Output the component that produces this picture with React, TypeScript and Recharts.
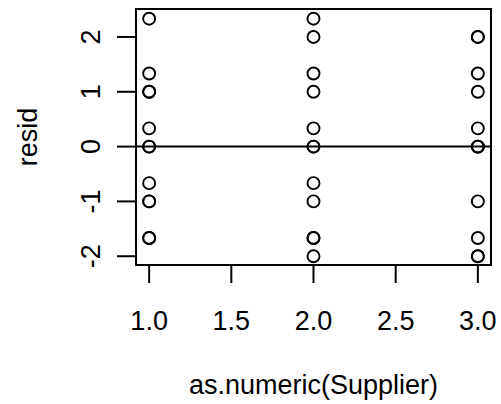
import React from 'react';
import {
  ScatterChart, Scatter, XAxis, YAxis, ReferenceLine, ReferenceArea, Label
} from 'recharts';

// residuals, one list per supplier (repeats are overplotted circles)
const supplier1 = [2.333, 1.333, 1, 1, 0.333, 0, 0, -0.667, -1, -1, -1.667, -1.667];
const supplier2 = [2.333, 2, 1.333, 1, 0.333, 0, 0, -0.667, -1, -1.667, -1.667, -2];
const supplier3 = [2, 2, 1.333, 1, 0.333, 0, 0, 0, -1, -1.667, -2, -2];

const xTicks = [1, 1.5, 2, 2.5, 3];
const yTicks = [-2, -1, 0, 1, 2];
const xDomain: [number, number] = [0.92, 3.08];
const yDomain: [number, number] = [-2.16, 2.51];

const FONT = '"Liberation Sans", Arial, sans-serif';
const FS = 27;

const points = [
  ...supplier1.map(r => ({ x: 1, y: r })),
  ...supplier2.map(r => ({ x: 2, y: r })),
  ...supplier3.map(r => ({ x: 3, y: r })),
];

const XTick = (props: any) => {
  const { x, y, payload } = props;
  return (
    <text x={x} y={y + 46.5} textAnchor="middle" fontFamily={FONT} fontSize={FS} fill="#000">
      {Number(payload.value).toFixed(1)}
    </text>
  );
};

const YTick = (props: any) => {
  const { x, y, payload } = props;
  const bx = x - 17;
  return (
    <text x={bx} y={y} transform={`rotate(-90 ${bx} ${y})`} textAnchor="middle"
      fontFamily={FONT} fontSize={FS} fill="#000">
      {payload.value}
    </text>
  );
};

const Ring = (props: any) => (
  <circle cx={props.cx} cy={props.cy} r={6} fill="none" stroke="#000" strokeWidth={1.9} />
);

export default function App() {
  return (
    <div style={{ position: 'absolute', left: 0, top: 0, background: '#fff' }}>
      <ScatterChart width={501} height={404} margin={{ top: 9, right: 10, bottom: 0, left: 0 }}>
        <XAxis
          type="number" dataKey="x" domain={xDomain} ticks={xTicks} allowDataOverflow
          height={139} tickSize={18} tickMargin={0} axisLine={false}
          tickLine={{ stroke: '#000', strokeWidth: 2 }} tick={<XTick />} interval={0}
        >
          <Label content={({ viewBox }: any) => (
            <text x={viewBox.x + viewBox.width / 2} y={viewBox.y + 128.5} textAnchor="middle"
              fontFamily={FONT} fontSize={FS} fill="#000">as.numeric(Supplier)</text>
          )} />
        </XAxis>
        <YAxis
          type="number" dataKey="y" domain={yDomain} ticks={yTicks} allowDataOverflow
          width={136} tickSize={19} tickMargin={0} axisLine={false}
          tickLine={{ stroke: '#000', strokeWidth: 2 }} tick={<YTick />} interval={0}
        >
          <Label content={({ viewBox }: any) => {
            const cx = 37;
            const cy = viewBox.y + viewBox.height / 2;
            return (
              <text x={cx} y={cy} transform={`rotate(-90 ${cx} ${cy})`} textAnchor="middle"
                fontFamily={FONT} fontSize={FS} fill="#000">resid</text>
            );
          }} />
        </YAxis>
        <ReferenceArea x1={xDomain[0]} x2={xDomain[1]} y1={yDomain[0]} y2={yDomain[1]}
          fill="none" fillOpacity={0} stroke="#000" strokeWidth={2} />
        <ReferenceLine y={0} stroke="#000" strokeWidth={2} />
        <Scatter data={points} shape={<Ring />} isAnimationActive={false} />
      </ScatterChart>
    </div>
  );
}
